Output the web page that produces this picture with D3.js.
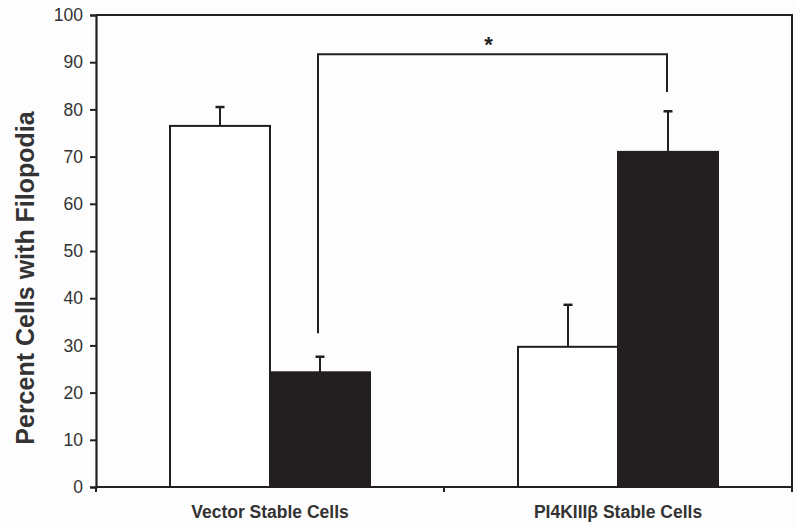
<!DOCTYPE html>
<html>
<head>
<meta charset="utf-8">
<script src="https://cdn.jsdelivr.net/npm/d3@7"></script>
<style>
  html, body { margin: 0; padding: 0; background: #fdfdfd; }
  svg { display: block; }
</style>
</head>
<body>
<svg id="chart" width="797" height="527"></svg>
<script>
const categories = ["Vector Stable Cells", "PI4KIIIβ Stable Cells"];
const seriesNames = ["open", "filled"];
const openValues = [76.5, 29.7];
const openErrors = [4.0, 8.9];
const filledValues = [24.3, 71.0];
const filledErrors = [3.3, 8.6];
const yTicks = [0, 10, 20, 30, 40, 50, 60, 70, 80, 90, 100];
const yLabel = "Percent Cells with Filopodia";
// significance bracket: connects filled bar of category 0 with filled bar of category 1
const bracketLevel = 91.7;
const bracketLeftEnd = 32.6;
const bracketRightEnd = 83.7;
const bracketLabel = "*";

(function () {
const svg = d3.select("#chart");
const ink = "#231f20";
const pL = 96, pR = 792, pT = 15, pB = 487;

const x = d3.scaleBand().domain(categories).range([pL, pR]).padding(0);
const xs = d3.scaleBand().domain(seriesNames).range([0, x.bandwidth()])
  .paddingInner(0).paddingOuter(0.74);
const y = d3.scaleLinear().domain([0, 100]).range([pB, pT]);

const rows = categories.map((c, i) => [
  { cat: c, s: "open", v: openValues[i], e: openErrors[i] },
  { cat: c, s: "filled", v: filledValues[i], e: filledErrors[i] }
]).flat();

// bars
svg.append("g").selectAll("rect").data(rows).join("rect")
  .attr("x", d => x(d.cat) + xs(d.s))
  .attr("y", d => y(d.v))
  .attr("width", xs.bandwidth())
  .attr("height", d => y(0) - y(d.v))
  .attr("fill", d => d.s === "open" ? "#ffffff" : ink)
  .attr("stroke", ink)
  .attr("stroke-width", 2);

// error bars
const eg = svg.append("g").attr("stroke", ink).attr("stroke-width", 2);
rows.forEach(d => {
  const cx = x(d.cat) + xs(d.s) + xs.bandwidth() / 2;
  eg.append("line").attr("x1", cx).attr("x2", cx)
    .attr("y1", y(d.v)).attr("y2", y(d.v + d.e));
  eg.append("line").attr("x1", cx - 4.5).attr("x2", cx + 4.5)
    .attr("y1", y(d.v + d.e)).attr("y2", y(d.v + d.e)).attr("stroke-width", 2.5);
});

// frame (top/right)
svg.append("path")
  .attr("d", `M${pL},${pT}H${pR}V${pB}`)
  .attr("fill", "none").attr("stroke", ink).attr("stroke-width", 2);

// y axis
const yAxis = svg.append("g").attr("transform", `translate(${pL},0)`)
  .call(d3.axisLeft(y).tickValues(yTicks).tickSize(6).tickPadding(7).tickFormat(d3.format("d")));
yAxis.select(".domain").attr("stroke", ink).attr("stroke-width", 2.2);
yAxis.selectAll(".tick line").attr("stroke", ink).attr("stroke-width", 2);
yAxis.selectAll(".tick text")
  .attr("font-family", "Liberation Sans, Arial, sans-serif")
  .attr("font-size", 17.5).attr("fill", "#333");

// x axis
const boundaries = [pL, ...categories.map(c => x(c) + x.bandwidth())];
const xAxis = svg.append("g").attr("transform", `translate(0,${pB})`);
xAxis.append("line").attr("x1", pL).attr("x2", pR).attr("y1", 0).attr("y2", 0)
  .attr("stroke", ink).attr("stroke-width", 2.2);
xAxis.selectAll("line.tk").data(boundaries).join("line").attr("class", "tk")
  .attr("x1", d => d).attr("x2", d => d).attr("y1", 0).attr("y2", 5)
  .attr("stroke", ink).attr("stroke-width", 2);
xAxis.selectAll("text").data(categories).join("text")
  .attr("x", d => x(d) + x.bandwidth() / 2)
  .attr("y", 31)
  .attr("text-anchor", "middle")
  .attr("font-family", "Liberation Sans, Arial, sans-serif")
  .attr("font-weight", "bold").attr("font-size", 17.5).attr("fill", "#333")
  .text(d => d);

// y label
svg.append("text")
  .attr("transform", `translate(34,${(pT + pB) / 2 + 27}) rotate(-90)`)
  .attr("text-anchor", "middle")
  .attr("font-family", "Liberation Sans, Arial, sans-serif")
  .attr("font-weight", "bold").attr("font-size", 25).attr("fill", "#333")
  .text(yLabel);

// significance bracket
const bx1 = x(categories[0]) + xs("filled") + xs.bandwidth() / 2 - 2;
const bx2 = x(categories[1]) + xs("filled") + xs.bandwidth() / 2 - 1;
svg.append("path")
  .attr("d", `M${bx1},${y(bracketLeftEnd)}V${y(bracketLevel)}H${bx2}V${y(bracketRightEnd)}`)
  .attr("fill", "none").attr("stroke", ink).attr("stroke-width", 2);
svg.append("text")
  .attr("x", (bx1 + bx2) / 2 - 4)
  .attr("y", y(bracketLevel) - 2)
  .attr("text-anchor", "middle")
  .attr("font-family", "Liberation Sans, Arial, sans-serif")
  .attr("font-weight", "bold").attr("font-size", 22).attr("fill", ink)
  .text(bracketLabel);
})();
</script>
</body>
</html>
